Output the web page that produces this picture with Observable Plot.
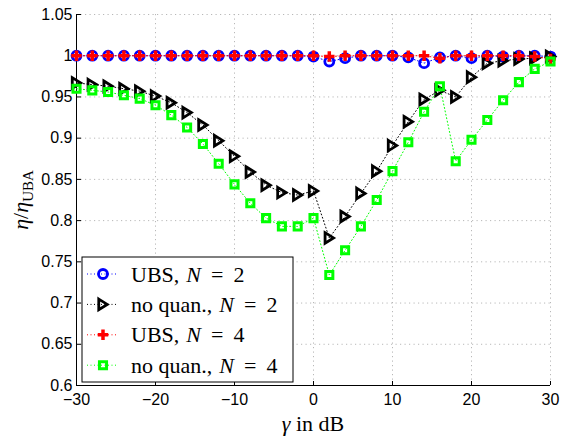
<!DOCTYPE html>
<html><head><meta charset="utf-8">
<script src="https://cdn.jsdelivr.net/npm/d3@7"></script>
<script src="https://cdn.jsdelivr.net/npm/@observablehq/plot@0.6"></script>
<style>body{margin:0;background:#fff} #chart svg{display:block}
.serif{font-family:"Liberation Serif","Times New Roman",Times,serif !important;}
</style>
</head><body><div id="chart"></div>
<script>
// ---- data ----
const gamma = [-30,-28,-26,-24,-22,-20,-18,-16,-14,-12,-10,-8,-6,-4,-2,0,2,4,6,8,10,12,14,16,18,20,22,24,26,28,30];
const ubsN2 = [1,1,1,1,1,1,1,1,1,1,1,1,1,1,1,0.999,0.993,0.997,1,1,1,0.998,0.991,0.998,1,0.997,1,0.999,1,1,0.999];
const noQuanN2 = [0.967,0.965,0.963,0.960,0.957,0.951,0.943,0.931,0.916,0.897,0.878,0.859,0.843,0.834,0.831,0.836,0.779,0.805,0.833,0.860,0.891,0.920,0.947,0.958,0.950,0.974,0.991,0.994,0.996,0.997,0.999];
const ubsN4 = [1,1,1,1,1,1,1,1,1,1,1,1,1,1,1,1,0.999,1,1,1,1,1,1,0.997,1,1,1,1,1,0.999,0.996];
const noQuanN4 = [0.960,0.958,0.956,0.952,0.948,0.940,0.928,0.913,0.893,0.869,0.844,0.821,0.803,0.793,0.793,0.803,0.734,0.764,0.793,0.825,0.860,0.895,0.932,0.963,0.872,0.898,0.922,0.946,0.968,0.984,0.993];
const xTicks = [-30,-20,-10,0,10,20,30];
const yTicks = [0.6,0.65,0.7,0.75,0.8,0.85,0.9,0.95,1,1.05];
const legendLabels = [["UBS,","2"],["no quan.,","2"],["UBS,","4"],["no quan.,","4"]];

// ---- styles ----
const triRight = {draw(ctx, size){const r=Math.sqrt(size/Math.PI);const a=0.9*r,b=1.12*r;ctx.moveTo(-a,-b);ctx.lineTo(a,0);ctx.lineTo(-a,b);ctx.closePath();}};
const seriesStyle = [
  {vals: ubsN2, color:"#0000ff", symbol:"circle", r:4.5, fill:"none", sw:2.8},
  {vals: noQuanN2, color:"#000000", symbol:triRight, r:4.7, fill:"none", sw:2.8},
  {vals: ubsN4, color:"#ff0000", symbol:"cross", r:4.4, fill:"#ff0000", sw:0},
  {vals: noQuanN4, color:"#00ff00", symbol:"square", r:4.0, fill:"none", sw:3}
];
const rowsOf = vals => gamma.map((g,i)=>({g, v: vals[i]}));
const fmtX = d => d < 0 ? "\u2212" + (-d) : String(d);
const fmtY = d => String(+d.toFixed(2));

const seriesMarks = seriesStyle.flatMap(s => [
  Plot.line(rowsOf(s.vals), {x:"g", y:"v", stroke:s.color, strokeWidth:1, strokeDasharray:"1,2.5"}),
  Plot.dot(rowsOf(s.vals), {x:"g", y:"v", symbol:s.symbol, r:s.r, fill:s.fill, stroke: s.sw ? s.color : "none", strokeWidth:s.sw, strokeLinejoin:"miter"})
]);

const plot = Plot.plot({
  width:566, height:437, marginLeft:76, marginRight:16, marginTop:14, marginBottom:52,
  style:{fontFamily:"'Liberation Sans', Arial, Helvetica, sans-serif", fontSize:"16px", color:"#000", background:"#fff", overflow:"visible"},
  x:{domain:[-30,30]}, y:{domain:[0.6,1.05]},
  marks:[
    Plot.gridX(xTicks, {stroke:"#b8b8b8", strokeOpacity:1, strokeDasharray:"1.2,3.3"}),
    Plot.gridY(yTicks, {stroke:"#b8b8b8", strokeOpacity:1, strokeDasharray:"1.2,3.3"}),
    Plot.axisX(xTicks, {tickSize:-4, tickPadding:12, tickFormat:fmtX, label:null, fontSize:16}),
    Plot.axisY(yTicks, {tickSize:-5, tickPadding:9, tickFormat:fmtY, label:null, fontSize:16}),
    Plot.ruleX([-30], {stroke:"#000"}),
    Plot.ruleY([0.6], {stroke:"#000"}),
    ...seriesMarks
  ]
});
document.getElementById("chart").appendChild(plot);

// ---- axis labels & legend ----
const svg = d3.select(plot);
const xl = svg.append("text").attr("class","serif").attr("x", 313).attr("y", 431).attr("text-anchor","middle")
  .attr("font-size",22);
xl.append("tspan").attr("font-style","italic").text("\u03b3");
xl.append("tspan").text(" in dB");

const yl = svg.append("text").attr("class","serif").attr("transform","translate(28,200) rotate(-90)").attr("text-anchor","middle")
  .attr("font-size",22);
yl.append("tspan").attr("font-style","italic").text("\u03b7");
yl.append("tspan").text("/");
yl.append("tspan").attr("font-style","italic").text("\u03b7");
yl.append("tspan").attr("dy", 5).attr("font-size",15).text("UBA");

const lg = svg.append("g");
lg.append("rect").attr("x",82).attr("y",257).attr("width",211).attr("height",125)
  .attr("fill","#fff").attr("stroke","#000").attr("stroke-width",1);
legendLabels.forEach((lab, i) => {
  const s = seriesStyle[i];
  const cy = 274 + i*30.4;
  lg.append("line").attr("x1",87).attr("x2",118).attr("y1",cy).attr("y2",cy)
    .attr("stroke", s.color).attr("stroke-width",1).attr("stroke-dasharray","1,2.5");
  const sym = typeof s.symbol === "string" ? {circle:d3.symbolCircle, cross:d3.symbolCross, square:d3.symbolSquare}[s.symbol] : s.symbol;
  lg.append("path").attr("transform",`translate(103,${cy})`)
    .attr("d", d3.symbol(sym, Math.PI*s.r*s.r)())
    .attr("fill", s.fill).attr("stroke", s.sw ? s.color : "none").attr("stroke-width", s.sw).attr("stroke-linejoin","miter");
  const t = lg.append("text").attr("class","serif").attr("x",131).attr("y",cy+7.5).attr("text-anchor","start").attr("font-size",22);
  t.append("tspan").text(lab[0]);
  t.append("tspan").attr("dx",7).attr("font-style","italic").text("N");
  t.append("tspan").attr("dx",10).text("=");
  t.append("tspan").attr("dx",10).text(lab[1]);
});
</script>
</body></html>
